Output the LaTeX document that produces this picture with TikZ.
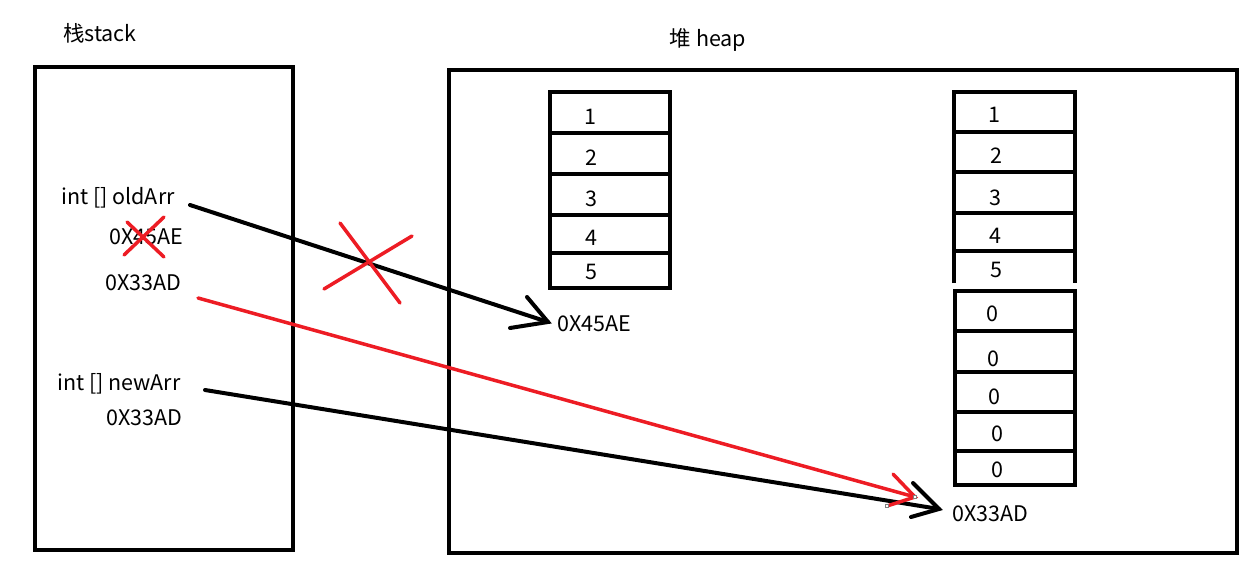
\documentclass[tikz,border=0pt]{standalone}
\usepackage{fontspec}
\setmainfont{Noto Sans CJK SC}
\definecolor{xred}{RGB}{237,28,36}
\begin{document}
\begin{tikzpicture}[x=1pt,y=-1pt,
  frame/.style={draw=black,line width=4pt},
  cellline/.style={draw=black,line width=4pt},
  lbl/.style={font=\fontsize{21.5}{24}\selectfont,inner sep=0pt},
  blk/.style={draw=black,line width=4pt,line cap=round},
  redl/.style={draw=xred,line width=3.5pt,line cap=round},
  handle/.style={draw=gray,fill=white,line width=0.8pt}]
\useasboundingbox (0,0) rectangle (1257,578);
% frames
\draw[frame] (35,67) rectangle (293,550);
\draw[frame] (449,70) rectangle (1237,553);
\node[lbl] (stacklbl) at (100,33) {栈stack};
\node[lbl] (heaplbl) at (708,40) {堆 heap};
% left array
\draw[cellline] (550,92) rectangle (670,288);
\foreach \yy in {133,174,215,253} \draw[cellline] (550,\yy) -- (670,\yy);
\node[lbl] (a1) at (590,117) {1};
\node[lbl] (a2) at (591,158) {2};
\node[lbl] (a3) at (591,199) {3};
\node[lbl] (a4) at (591,238) {4};
\node[lbl] (a5) at (591,272) {5};
% right array (copied)
\draw[cellline] (954,283) -- (954,92) -- (1075,92) -- (1075,283);
\foreach \yy in {132,172,213,251} \draw[cellline] (954,\yy) -- (1075,\yy);
\node[lbl] (b1) at (994,115) {1};
\node[lbl] (b2) at (996,156) {2};
\node[lbl] (b3) at (995,198) {3};
\node[lbl] (b4) at (995,236) {4};
\node[lbl] (b5) at (996,270) {5};
\draw[cellline] (955,291) rectangle (1075,485);
\foreach \yy in {331,372,412,451} \draw[cellline] (955,\yy) -- (1075,\yy);
\node[lbl] (c1) at (992,314) {0};
\node[lbl] (c2) at (993,359) {0};
\node[lbl] (c3) at (994,397) {0};
\node[lbl] (c4) at (997,434) {0};
\node[lbl] (c5) at (997,470) {0};
% stack texts
\node[lbl,anchor=west] (oldarr) at (61,198) {int [] oldArr};
\node[lbl,anchor=west] (oldaddr) at (109,237) {0X45AE};
\node[lbl,anchor=west] (newaddr1) at (105,283) {0X33AD};
\node[lbl,anchor=west] (newarr) at (57,384) {int [] newArr};
\node[lbl,anchor=west] (newaddr2) at (106,418) {0X33AD};
% heap address labels
\node[lbl,anchor=west] (addr45) at (557,324) {0X45AE};
\node[lbl,anchor=west] (addr33) at (952,514) {0X33AD};
% coordinates for connectors
\coordinate (s1) at (190,205);
\coordinate (t1) at (548,322);
\coordinate (s2) at (198,298);
\coordinate (t2) at (915,497);
\coordinate (s3) at (205,390);
\coordinate (t3) at (939,509);
% black arrow oldArr
\draw[blk] (s1) -- (t1);
\draw[blk] (527,297) -- (t1) -- (510,328);
% black arrow newArr
\draw[blk] (s3) -- (t3);
\draw[blk] (913,483) -- (t3) -- (911,517);
% red arrow
\draw[redl] (s2) -- (t2);
\draw[redl] (893,474) -- (t2) -- (887,506);
\draw[handle] (885.5,504.5) rectangle (888.5,507.5);
\draw[handle] (913.5,495.5) rectangle (916.5,498.5);
% red crosses
\draw[redl] (127,222) -- (164,257);
\draw[redl] (164,217) -- (124,255);
\draw[redl] (340,223) -- (400,303);
\draw[redl] (412,236) -- (324,289);
\end{tikzpicture}
\end{document}
